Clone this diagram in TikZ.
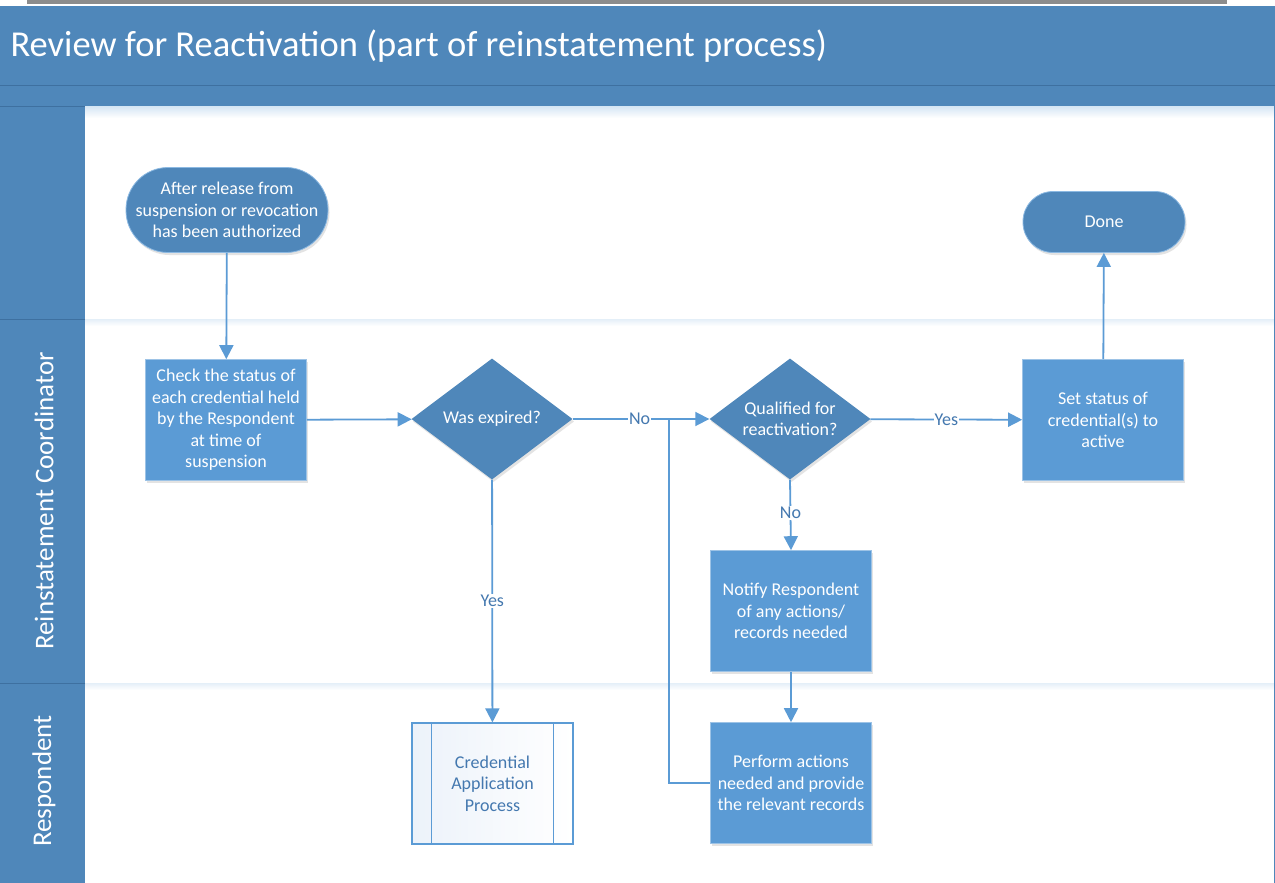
\documentclass[tikz,border=0pt]{standalone}
\usepackage{fontspec}
\setmainfont{Carlito}
\usetikzlibrary{shapes.geometric,arrows.meta,shadows}
\definecolor{hdr}{RGB}{79,135,186}
\definecolor{hdrline}{RGB}{62,112,160}
\definecolor{proc}{RGB}{91,155,213}
\definecolor{conn}{RGB}{91,155,213}
\definecolor{lbl}{RGB}{68,120,175}
\definecolor{subfill}{RGB}{236,242,250}
\tikzset{
  x=1pt, y=-1pt,
  boxtext/.style={font=\fontsize{18}{21.5}\selectfont, text=white, align=center},
  shad/.style={drop shadow={shadow xshift=1.5pt,shadow yshift=-2.5pt,opacity=0.18,fill=black!60}},
  terminal/.style={boxtext, shad, fill=hdr, draw=proc!70!white, line width=0.8pt, inner sep=0pt},
  procbox/.style={boxtext, shad, fill=proc, draw=proc!60!white, line width=0.6pt, minimum width=161pt, minimum height=121pt, inner sep=0pt},
  decision/.style={boxtext, shad, diamond, shape aspect=1.33, fill=hdr, minimum width=161pt, minimum height=121pt, inner sep=0pt},
  subproc/.style={font=\fontsize{18}{21.5}\selectfont, text=lbl, align=center, draw=proc, line width=1.2pt, left color=subfill, right color=white, minimum width=161pt, minimum height=121pt, inner sep=0pt},
  flow/.style={draw=conn, line width=1.8pt},
  arr/.style={flow, -{Triangle[length=14pt,width=14pt]}},
  edgelbl/.style={font=\fontsize{18}{20}\selectfont, text=lbl, fill=white, inner sep=1pt},
  lanelbl/.style={font=\fontsize{27}{30}\selectfont, text=white, rotate=90},
}
\begin{document}
\begin{tikzpicture}
\useasboundingbox (0,0) rectangle (1275,883);
\fill[white] (0,0) rectangle (1275,883);

% top rule and header band
\fill[gray!90] (27,0) rectangle (1227,4);
\fill[hdr] (0,6) rectangle (1275,106);
\draw[hdrline, line width=1pt] (0,86) -- (1275,86);
\node[anchor=west, text=white, font=\fontsize{36.5}{40}\selectfont] (title) at (7,46) {Review for Reactivation (part of reinstatement process)};

% lane label column
\fill[hdr] (0,106) rectangle (85,883);
\draw[hdrline, line width=1pt] (0,106) -- (1275,106);
\shade[top color=proc!25, bottom color=white] (85,106.5) rectangle (1275,118);
\draw[hdrline, line width=1pt] (0,319) -- (85,319);
\draw[hdrline, line width=1pt] (0,683) -- (85,683);
\draw[hdr, line width=1pt] (85,319) -- (1275,319);
\draw[hdr, line width=1pt] (85,683) -- (1275,683);
\shade[top color=proc!15, bottom color=white] (85,319.5) rectangle (1275,326);
\shade[top color=proc!15, bottom color=white] (85,683.5) rectangle (1275,690);
\draw[hdr, line width=1pt] (1274.5,106) -- (1274.5,883);
\node[lanelbl] (laneA) at (44,501) {Reinstatement Coordinator};
\node[lanelbl] (laneB) at (44,781) {Respondent};

% flow nodes
\node[terminal, minimum width=202pt, minimum height=85pt, rounded corners=42pt] (start) at (227,210)
  {After release from\\suspension or revocation\\has been authorized};
\node[procbox] (check) at (226,420)
  {Check the status of\\each credential held\\by the Respondent\\at time of\\suspension};
\node[decision] (expired) at (492,419) {Was expired?};
\node[decision] (qual) at (790,419) {Qualified for\\reactivation?};
\node[procbox] (setst) at (1103,420) {Set status of\\credential(s) to\\active};
\node[terminal, minimum width=162pt, minimum height=61pt, rounded corners=30pt] (done) at (1104,222) {Done};
\node[procbox] (notify) at (791,611) {Notify Respondent\\of any actions/\\records needed};
\node[procbox] (perform) at (791,783) {Perform actions\\needed and provide\\the relevant records};
\node[subproc] (credapp) at (492.5,783.5) {Credential\\Application\\Process};
\draw[proc, line width=1.2pt] ([xshift=20pt]credapp.north west) -- ([xshift=20pt]credapp.south west);
\draw[proc, line width=1.2pt] ([xshift=-20pt]credapp.north east) -- ([xshift=-20pt]credapp.south east);

% connectors
\coordinate (merge) at (669,419);
\draw[arr] (start) -- (check);
\draw[arr] (check) -- (expired);
\draw[arr] (expired) -- node[edgelbl, pos=0.49] {No} (qual);
\draw[arr] (expired) -- node[edgelbl, pos=0.5] {Yes} (credapp);
\draw[arr] (qual) -- node[edgelbl, pos=0.5] {Yes} (setst);
\draw[arr] (qual.south) -- node[edgelbl, pos=0.47] {No} (notify.north);
\draw[arr] (notify) -- (perform);
\draw[flow] (perform.west) -| (merge);
\draw[arr] (setst) -- (done);
\end{tikzpicture}
\end{document}
